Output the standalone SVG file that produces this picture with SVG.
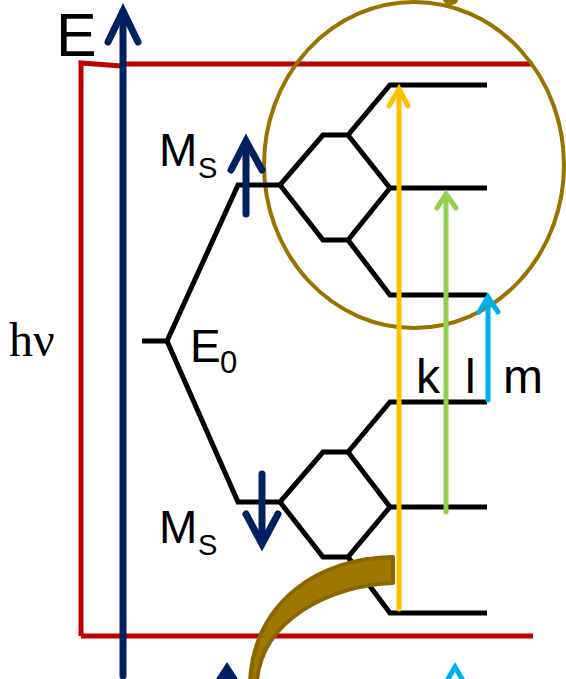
<svg xmlns="http://www.w3.org/2000/svg" width="566" height="679" viewBox="0 0 566 679">
<style>
.lv{fill:none;stroke:#000;stroke-width:5;stroke-linejoin:miter}
.red{fill:none;stroke:#C00000;stroke-width:5}
.navy{fill:none;stroke:#002060;stroke-width:7;stroke-linecap:round;stroke-linejoin:miter}
.arr{fill:none;stroke-width:5;stroke-linecap:round;stroke-linejoin:miter}
.t{font-family:"Liberation Sans",Arial,sans-serif;fill:#000}
</style>
<rect width="566" height="679" fill="#fff"/>
<g id="frame">
<path class="red" d="M81,636 L81,63 L122,66"/>
<path class="red" d="M122,64 L533,64"/>
<path class="red" d="M81,636 L533,636"/>
</g>
<g id="energy-axis">
<path class="navy" d="M123,676 L123,12"/>
<path class="navy" d="M108,42 L123,11 L138,42"/>
<text class="t" x="56" y="56" font-size="61">E</text>
</g>
<text id="hv" x="9" y="356" font-family="'Liberation Serif','Times New Roman',serif" font-size="48">hν</text>
<g id="ellipse">
<ellipse cx="414" cy="165" rx="150" ry="163" fill="none" stroke="#997300" stroke-width="4"/>
<path d="M443,0 Q445,6 452,5 Q458,4 458,0 Z" fill="#997300"/>
</g>
<g id="levels">
<path class="lv" d="M142,341 L167,341 L238,185 L280,185 L323,135 L348,135 L390,85 L487,85"/>
<path class="lv" d="M348,135 L390,188 L487,188"/>
<path class="lv" d="M280,185 L323,240 L348,240 L390,188"/>
<path class="lv" d="M348,240 L390,295 L487,295"/>
<path class="lv" d="M167,341 L238,502 L280,502 L323,452 L348,452 L390,402 L487,402"/>
<path class="lv" d="M348,452 L390,507 L487,507"/>
<path class="lv" d="M280,502 L323,557 L348,557 L390,507"/>
<path class="lv" d="M348,557 L390,613 L487,613"/>
</g>
<g id="labels">
<text class="t" x="159" y="166" font-size="46">M</text>
<text class="t" x="198" y="178" font-size="29">S</text>
<text class="t" x="159" y="543" font-size="46">M</text>
<text class="t" x="198" y="555" font-size="29">S</text>
<text class="t" x="190" y="362" font-size="46">E</text>
<text class="t" x="220" y="373" font-size="31">0</text>
<text class="t" x="416" y="393" font-size="48">k</text>
<text class="t" x="465" y="393" font-size="48">l</text>
<text class="t" x="503" y="393" font-size="48">m</text>
</g>
<g id="connectors">
<path class="navy" d="M246,214 L246,143"/>
<path class="navy" d="M231,170 L246,141 L262,170"/>
<path class="navy" d="M262,474 L262,543"/>
<path class="navy" d="M246,514 L262,544 L278,514"/>
<path class="arr" stroke="#FFC000" d="M399,609 L399,90"/>
<path class="arr" stroke="#FFC000" d="M389,106 L399,89 L408,106"/>
<path class="arr" stroke="#92D050" d="M446,512 L446,195"/>
<path class="arr" stroke="#92D050" d="M437,208 L446,194 L456,208"/>
<path class="arr" stroke="#00B0F0" d="M488,400 L488,298"/>
<path class="arr" stroke="#00B0F0" d="M479,312 L488,297 L498,312"/>
<path d="M227,662 L214,682 L240,682 Z" fill="#002060"/>
<path class="arr" stroke="#00B0F0" d="M445,684 L455,667 L465,684"/>
<path d="M393,557 C320,558 255,600 250,681 L257,681 C262,620 330,585 393,583 Z" fill="#9E7700" stroke="#8A6600" stroke-width="4" stroke-linejoin="round"/>
</g>
</svg>
